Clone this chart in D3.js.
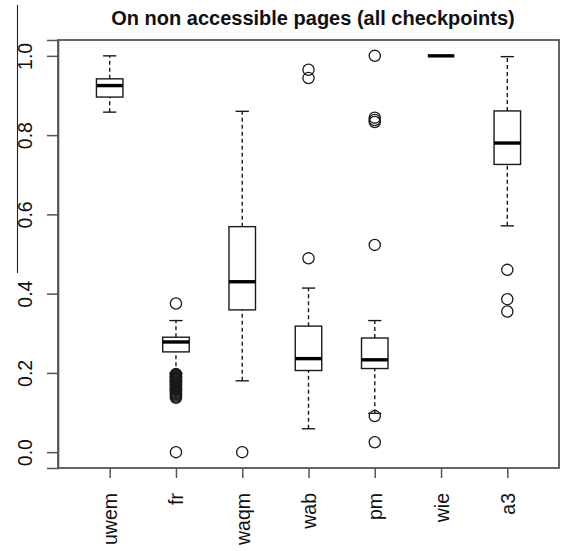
<!DOCTYPE html>
<html>
<head>
<meta charset="utf-8">
<script src="https://cdn.jsdelivr.net/npm/d3@7"></script>
<style>
  body { margin: 0; background: #fff; }
  svg { font-family: "Liberation Sans", Arial, sans-serif; }
</style>
</head>
<body>
<svg width="561" height="551"></svg>
<script>
// box statistics
var categories = ["uwem", "fr", "waqm", "wab", "pm", "wie", "a3"];
var whiskerLow  = [0.858, 0.199, 0.180, 0.059, 0.098, 1.0, 0.571];
var q1          = [0.896, 0.253, 0.359, 0.206, 0.211, 1.0, 0.726];
var median      = [0.925, 0.278, 0.430, 0.236, 0.233, 1.0, 0.780];
var q3          = [0.942, 0.290, 0.569, 0.318, 0.288, 1.0, 0.861];
var whiskerHigh = [1.0,   0.332, 0.860, 0.414, 0.332, 1.0, 0.998];
var outliers = [
  [],
  [0.375, 0.197, 0.195, 0.193, 0.191, 0.189, 0.187, 0.185, 0.183, 0.181, 0.179, 0.177, 0.175,
   0.173, 0.171, 0.169, 0.167, 0.165, 0.163, 0.161, 0.159, 0.157, 0.155, 0.152, 0.149, 0.146,
   0.143, 0.140, 0.137, 0.0],
  [0.0],
  [0.965, 0.944, 0.489],
  [1.0, 0.844, 0.838, 0.833, 0.523, 0.091, 0.025],
  [],
  [0.460, 0.386, 0.355]
];
var yTicks = [0, 0.2, 0.4, 0.6, 0.8, 1.0];
var title = "On non accessible pages (all checkpoints)";

var svg = d3.select("svg");
var plotLeft = 58, plotRight = 559, plotTop = 40, plotBottom = 468;

var x = d3.scaleLinear()
    .domain([0.22, 7.78])
    .range([plotLeft, plotRight]);

var y = d3.scaleLinear()
    .domain([-0.04, 1.04])
    .range([plotBottom, plotTop]);

var boxW = x(1.4) - x(1);     // 0.8 units
var capW = x(1.2) - x(1);     // 0.4 units
var ink = "#1a1a1a";

// stray rule at the far left of the scan
svg.append("line")
    .attr("x1", 17.5).attr("x2", 17.5)
    .attr("y1", 5).attr("y2", 273)
    .attr("stroke", "#222")
    .attr("stroke-width", 1.1);

// title
svg.append("text")
    .attr("x", 313)
    .attr("y", 25)
    .attr("text-anchor", "middle")
    .style("font-size", "20px")
    .style("font-weight", "bold")
    .attr("fill", "#111")
    .text(title);

// y axis
var yAxis = svg.append("g")
    .attr("transform", "translate(" + plotLeft + ",0)")
    .call(d3.axisLeft(y).tickValues(yTicks).tickSize(11).tickPadding(0)
      .tickFormat(d3.format(".1f")));
yAxis.select(".domain").attr("stroke", "#555").attr("stroke-width", 1.6);
yAxis.selectAll(".tick line").attr("stroke", "#555").attr("stroke-width", 1.5);
yAxis.selectAll(".tick text")
    .attr("x", 0).attr("dy", null)
    .attr("text-anchor", "middle")
    .attr("transform", "translate(-33,0) rotate(-90)")
    .attr("dominant-baseline", "central")
    .style("font-size", "19.5px")
    .attr("fill", "#111");

// x axis
var xAxis = svg.append("g")
    .attr("transform", "translate(0," + plotBottom + ")")
    .call(d3.axisBottom(x).tickValues(d3.range(1, categories.length + 1)).tickSize(10).tickPadding(0)
      .tickFormat(function(d) { return categories[d - 1]; }));
xAxis.select(".domain").remove();
xAxis.selectAll(".tick line").attr("stroke", "#555").attr("stroke-width", 1.5);
xAxis.selectAll(".tick text")
    .attr("y", 0).attr("dy", null)
    .attr("text-anchor", "end")
    .attr("dominant-baseline", "central")
    .attr("transform", "translate(0,25) rotate(-90)")
    .style("font-size", "19.5px")
    .attr("fill", "#111");

// plot frame
svg.append("rect")
    .attr("x", plotLeft).attr("y", plotTop)
    .attr("width", plotRight - plotLeft).attr("height", plotBottom - plotTop)
    .attr("fill", "none")
    .attr("stroke", "#555")
    .attr("stroke-width", 1.8);

var boxes = svg.append("g")
    .selectAll("g")
    .data(categories)
    .enter().append("g")
    .attr("transform", function(d, i) { return "translate(" + x(i + 1) + ",0)"; });

// whiskers and boxes
boxes.each(function(d, i) {
  var g = d3.select(this);
  if (whiskerLow[i] === whiskerHigh[i]) return;
  [[q3[i], whiskerHigh[i]], [whiskerLow[i], q1[i]]].forEach(function(seg) {
    g.append("line")
      .attr("x1", 0).attr("x2", 0)
      .attr("y1", y(seg[0])).attr("y2", y(seg[1]))
      .attr("stroke", ink).attr("stroke-width", 1.4)
      .attr("stroke-dasharray", "4,3");
  });
  [whiskerHigh[i], whiskerLow[i]].forEach(function(v) {
    g.append("line")
      .attr("x1", -capW / 2).attr("x2", capW / 2)
      .attr("y1", y(v)).attr("y2", y(v))
      .attr("stroke", ink).attr("stroke-width", 1.4);
  });
  g.append("rect")
    .attr("x", -boxW / 2).attr("width", boxW)
    .attr("y", y(q3[i])).attr("height", y(q1[i]) - y(q3[i]))
    .attr("fill", "#fff")
    .attr("stroke", ink).attr("stroke-width", 1.4);
});

// medians
boxes.append("line")
    .attr("x1", -boxW / 2).attr("x2", boxW / 2)
    .attr("y1", function(d, i) { return y(median[i]); })
    .attr("y2", function(d, i) { return y(median[i]); })
    .attr("stroke", "#000")
    .attr("stroke-width", 3.4);

// outliers
boxes.each(function(d, i) {
  d3.select(this).selectAll("circle")
    .data(outliers[i])
    .enter().append("circle")
    .attr("cx", 0)
    .attr("cy", function(v) { return y(v); })
    .attr("r", 5.6)
    .attr("fill", "none")
    .attr("stroke", ink)
    .attr("stroke-width", 1.3);
});
</script>
</body>
</html>
